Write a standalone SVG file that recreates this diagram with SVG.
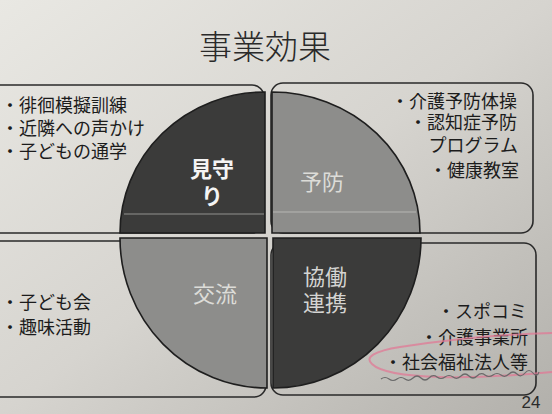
<svg xmlns="http://www.w3.org/2000/svg" width="552" height="414" viewBox="0 0 552 414">
<defs>
<linearGradient id="bg" x1="0" y1="0" x2="1" y2="1">
<stop offset="0" stop-color="#e9e8e3"/>
<stop offset="0.5" stop-color="#d6d4cf"/>
<stop offset="1" stop-color="#b2b0ab"/>
</linearGradient>
</defs>
<style>
.box{fill:none;stroke:#2a2a2a;stroke-width:1.6}
.q{stroke:#1e1e1e;stroke-width:1.6}
.dark{fill:#3b3b3a}
.mid{fill:#8d8d8b}
.t{font-family:"Liberation Sans","Noto Sans CJK JP",sans-serif;font-size:18px;fill:#1c1c1c}
.c{font-family:"Liberation Sans","Noto Sans CJK JP",sans-serif;font-size:22px;text-anchor:middle}
.hl{stroke:#d8d8d4;stroke-width:0.8;opacity:0.7}
</style>
<rect x="0" y="0" width="552" height="414" fill="url(#bg)"/>
<text x="265" y="59" font-family="'Noto Sans CJK JP',sans-serif" font-size="33" font-weight="300" fill="#2a2a2a" text-anchor="middle">事業効果</text>

<g id="box-mimamori">
<rect class="box" x="-12" y="85" width="276" height="148" rx="12"/>
<text class="t"><tspan x="1" y="112">・徘徊模擬訓練</tspan><tspan x="1" y="135">・近隣への声かけ</tspan><tspan x="1" y="158">・子どもの通学</tspan></text>
</g>
<g id="box-yobou">
<rect class="box" x="271" y="83" width="262" height="150" rx="12"/>
<text class="t" text-anchor="end"><tspan x="517" y="107.5">・介護予防体操</tspan><tspan x="517" y="129">・認知症予防</tspan><tspan x="518" y="151.5">プログラム</tspan><tspan x="519" y="176.5">・健康教室</tspan></text>
</g>
<g id="box-kouryuu">
<rect class="box" x="-12" y="241" width="278" height="156" rx="12"/>
<text class="t"><tspan x="1" y="309">・子ども会</tspan><tspan x="1" y="334">・趣味活動</tspan></text>
</g>
<g id="box-kyoudou">
<rect class="box" x="271" y="243" width="265" height="152" rx="12"/>
<text class="t" text-anchor="end"><tspan x="527" y="317.5">・スポコミ</tspan><tspan x="528" y="344">・介護事業所</tspan><tspan x="528" y="369">・社会福祉法人等</tspan></text>
</g>

<g id="q-mimamori">
<path class="q dark" d="M265,233 L120,233 A145,141 0 0 1 265,92 Z"/>
<line class="hl" x1="124" y1="214" x2="264" y2="214"/>
<text class="c" fill="#f4f4f4" font-weight="bold"><tspan x="212" y="177">見守</tspan><tspan x="212" y="204">り</tspan></text>
</g>
<g id="q-yobou">
<path class="q mid" d="M272,233 L272,92 A148,141 0 0 1 420,233 Z"/>
<line class="hl" x1="273" y1="212" x2="416" y2="212"/>
<text class="c" x="322" y="190" fill="#dcdcd8">予防</text>
</g>
<g id="q-kouryuu">
<path class="q mid" d="M267,238 L267,388 A147,150 0 0 1 120,238 Z" fill="#858583"/>
<text class="c" x="215" y="302" fill="#dcdcd8">交流</text>
</g>
<g id="q-kyoudou">
<path class="q dark" d="M273,238 L421,238 A148,150 0 0 1 273,388 Z" fill="#363636"/>
<text class="c" fill="#d4d4d2" font-size="23"><tspan x="325" y="285">協働</tspan><tspan x="325" y="311">連携</tspan></text>
</g>

<g id="marks" fill="none">
<path d="M552,333 C500,334 440,341 400,347 C375,351 364,357 372,364 C380,372 405,376 440,377 C480,378 520,375 552,372" stroke="#e07a95" stroke-width="2" opacity="0.75"/>
<path d="M381,379 q4,-3 8,0 t8,0 t8,0 t8,-1 t8,0 t8,0 t8,-1 t8,0 t8,0 t8,-1 t8,0 t8,0 t8,-1 t8,0 t8,0 t8,-1 t8,0 t8,-1 t8,0 t6,-1" stroke="#6a6a6a" stroke-width="1.2"/>
</g>
<text x="531" y="408" font-family="'Liberation Sans',sans-serif" font-size="17" fill="#2a2a2a" text-anchor="middle">24</text>
</svg>
